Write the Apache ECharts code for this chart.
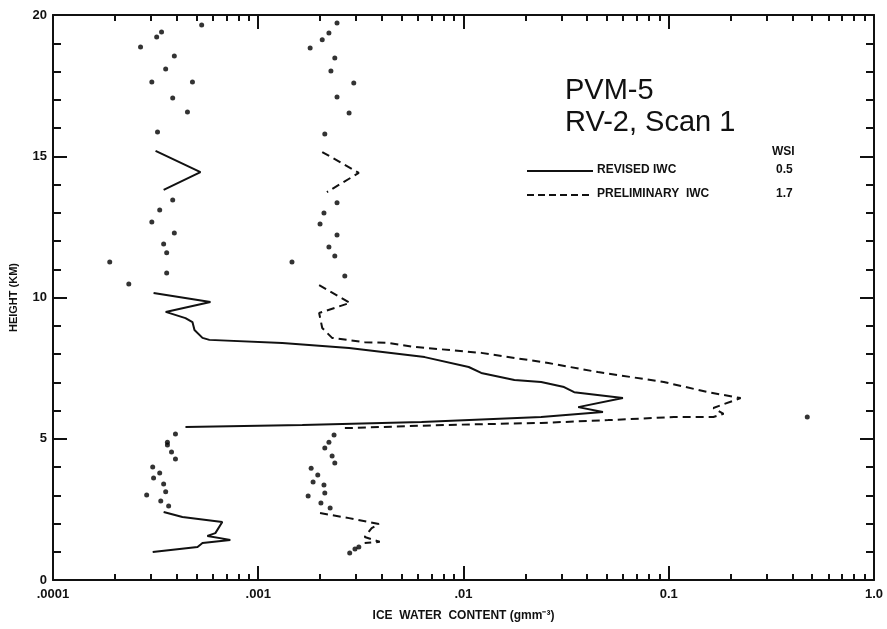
<!DOCTYPE html>
<html>
<head>
<meta charset="utf-8">
<title>PVM-5 RV-2 Scan 1</title>
<script src="https://cdn.jsdelivr.net/npm/echarts@6/dist/echarts.min.js"></script>
<style>
  html, body { margin: 0; padding: 0; background: #fff; }
  #main { width: 887px; height: 629px; }
</style>
</head>
<body>
<div id="main"></div>
<script>
// ice water content (g m^-3) vs height (km)
var revisedTopDots = [[0.00053,19.65],[0.000338,19.40],[0.00032,19.22],[0.000267,18.87],[0.00039,18.55],[0.000354,18.09],[0.000303,17.63],[0.000478,17.63],[0.000383,17.06],[0.000452,16.57],[0.000323,15.86]];
var revisedUpperV = [[0.000316,15.19],[0.000523,14.44],[0.000346,13.81]];
var revisedMidDots = [[0.000383,13.45],[0.000331,13.10],[0.000303,12.67],[0.00039,12.28],[0.000346,11.89],[0.000358,11.58],[0.000189,11.26],[0.000358,10.87],[0.000234,10.48]];
var revisedMain = [[0.000309,10.16],[0.000585,9.84],[0.000354,9.49],[0.000442,9.27],[0.000478,9.13],[0.000489,8.85],[0.000535,8.57],[0.000578,8.50],[0.00131,8.39],[0.00277,8.21],[0.00647,7.89],[0.0106,7.54],[0.0122,7.33],[0.0177,7.08],[0.0239,7.01],[0.0309,6.83],[0.0346,6.65],[0.0598,6.44],[0.0362,6.12],[0.0478,5.95],[0.0239,5.77],[0.00625,5.59],[0.00164,5.49],[0.000442,5.42]];
var revisedLowDots = [[0.000395,5.17],[0.000361,4.88],[0.000361,4.78],[0.000378,4.53],[0.000395,4.28],[0.000306,4.0],[0.000331,3.79],[0.000309,3.61],[0.000346,3.40],[0.000354,3.12],[0.000286,3.01],[0.000335,2.80],[0.000366,2.62]];
var revisedBottom = [[0.000346,2.41],[0.000427,2.23],[0.000668,2.05],[0.000618,1.66],[0.000565,1.56],[0.000731,1.42],[0.000535,1.31],[0.000506,1.17],[0.000306,0.99]];

var prelimTopDots = [[0.00242,19.72],[0.00221,19.36],[0.00205,19.12],[0.00179,18.83],[0.00236,18.48],[0.00226,18.02],[0.00292,17.59],[0.00242,17.10],[0.00277,16.53],[0.00211,15.79]];
var prelimUpperV = [[0.00205,15.15],[0.00309,14.41],[0.00216,13.73]];
var prelimMidDots = [[0.00242,13.35],[0.00209,12.99],[0.0020,12.60],[0.00242,12.21],[0.00221,11.79],[0.00236,11.47],[0.00146,11.26],[0.00264,10.76]];
var prelimMain = [[0.00198,10.44],[0.0028,9.81],[0.00198,9.45],[0.00205,8.92],[0.00229,8.57],[0.0033,8.42],[0.00433,8.39],[0.00578,8.25],[0.0122,8.04],[0.0259,7.68],[0.0452,7.36],[0.0946,7.01],[0.155,6.65],[0.224,6.44],[0.165,6.09],[0.185,5.88],[0.165,5.77],[0.106,5.77],[0.0506,5.66],[0.0239,5.56],[0.00846,5.49],[0.00277,5.38],[0.00256,5.38]];
var prelimLowDots = [[0.00234,5.13],[0.00221,4.88],[0.00211,4.67],[0.00229,4.39],[0.00236,4.14],[0.00181,3.96],[0.00195,3.72],[0.00185,3.47],[0.00209,3.36],[0.00211,3.08],[0.00175,2.97],[0.00202,2.73],[0.00224,2.55]];
var prelimBottom = [[0.0020,2.37],[0.00277,2.19],[0.00387,1.98],[0.00357,1.84],[0.0033,1.52],[0.00391,1.35],[0.0033,1.31]];
var prelimBottomDots = [[0.00309,1.17],[0.00296,1.10],[0.00279,0.96],[0.473,5.77]];

// axis ticks
var xTickValues = [0.0001, 0.001, 0.01, 0.1, 1];
var xTickLabels = ['.0001', '.001', '.01', '0.1', '1.0'];
var xMinorValues = [];
[0.0001, 0.001, 0.01, 0.1].forEach(function (d) {
  for (var k = 2; k <= 9; k++) xMinorValues.push(+(d * k).toPrecision(3));
});

var legendRows = [
  { name: 'REVISED IWC', wsi: '0.5', dash: null },
  { name: 'PRELIMINARY  IWC', wsi: '1.7', dash: [7, 4] }
];

var myChart = echarts.init(document.getElementById('main'));

var black = '#111';
var tickFont = { color: black, fontFamily: 'Liberation Sans', fontWeight: 'bold', fontSize: 13 };

function xLabel(v) {
  for (var i = 0; i < xTickValues.length; i++) {
    if (Math.abs(Math.log10(v) - Math.log10(xTickValues[i])) < 1e-6) return xTickLabels[i];
  }
  return '';
}

function xAxisDef(pos, minor) {
  return {
    type: 'log', logBase: 10, min: 0.0001, max: 1, position: pos, gridIndex: 0,
    name: (pos === 'bottom' && !minor) ? 'ICE  WATER  CONTENT (gmm\u207B\u00B3)' : '',
    nameLocation: 'middle', nameGap: 30,
    nameTextStyle: { color: black, fontFamily: 'Liberation Sans', fontWeight: 'bold', fontSize: 12 },
    axisLine: { show: !minor, lineStyle: { color: black, width: 2 } },
    axisTick: { show: true, inside: true, length: minor ? 6 : 14, customValues: minor ? xMinorValues : xTickValues,
                lineStyle: { color: black, width: 2 } },
    axisLabel: (pos === 'bottom' && !minor)
      ? Object.assign({ show: true, margin: 8, customValues: xTickValues, formatter: xLabel }, tickFont)
      : { show: false },
    splitLine: { show: false }
  };
}

function yAxisDef(pos) {
  return {
    type: 'value', min: 0, max: 20, interval: 5, position: pos, gridIndex: 0,
    name: pos === 'left' ? 'HEIGHT (KM)' : '',
    nameLocation: 'middle', nameGap: 34, nameRotate: 90,
    nameTextStyle: { color: black, fontFamily: 'Liberation Sans', fontWeight: 'bold', fontSize: 11 },
    axisLine: { show: true, lineStyle: { color: black, width: 2 } },
    axisTick: { show: true, inside: true, length: 14, lineStyle: { color: black, width: 2 } },
    minorTick: { show: true, splitNumber: 5, length: 8, lineStyle: { color: black, width: 2 } },
    axisLabel: pos === 'left' ? Object.assign({ show: true, margin: 6 }, tickFont) : { show: false },
    splitLine: { show: false }
  };
}

function lineSeries(data, dashed) {
  return {
    type: 'line', data: data, xAxisIndex: 0, yAxisIndex: 0,
    symbol: 'none', smooth: false, animation: false, silent: true,
    lineStyle: { color: black, width: 2, type: dashed ? [8, 5] : 'solid' }
  };
}

function dotSeries(data) {
  return {
    type: 'scatter', data: data, xAxisIndex: 0, yAxisIndex: 0,
    symbol: 'circle', symbolSize: 5, animation: false, silent: true,
    itemStyle: { color: '#000' }
  };
}

var titleFont = '29px "Liberation Sans"';
var smallFont = 'bold 12px "Liberation Sans"';
var graphics = [
  { type: 'text', left: 565, top: 76, style: { text: 'PVM-5', fill: black, font: titleFont } },
  { type: 'text', left: 565, top: 108, style: { text: 'RV-2, Scan 1', fill: black, font: titleFont } },
  { type: 'text', left: 772, top: 146, style: { text: 'WSI', fill: black, font: smallFont } }
];
legendRows.forEach(function (r, i) {
  var y = 171 + i * 24;
  graphics.push({ type: 'line', shape: { x1: 527, y1: y, x2: 593, y2: y },
    style: { stroke: black, lineWidth: 2, lineDash: r.dash } });
  graphics.push({ type: 'text', left: 597, top: y - 7, style: { text: r.name, fill: black, font: smallFont } });
  graphics.push({ type: 'text', left: 776, top: y - 7, style: { text: r.wsi, fill: black, font: smallFont } });
});

var option = {
  backgroundColor: '#fff',
  animation: false,
  grid: { left: 50, right: 13, top: 15, bottom: 49 },
  xAxis: [xAxisDef('bottom', false), xAxisDef('bottom', true), xAxisDef('top', false), xAxisDef('top', true)],
  yAxis: [yAxisDef('left'), yAxisDef('right')],
  graphic: graphics,
  series: [
    dotSeries(revisedTopDots), lineSeries(revisedUpperV, false), dotSeries(revisedMidDots),
    lineSeries(revisedMain, false), dotSeries(revisedLowDots), lineSeries(revisedBottom, false),
    dotSeries(prelimTopDots), lineSeries(prelimUpperV, true), dotSeries(prelimMidDots),
    lineSeries(prelimMain, true), dotSeries(prelimLowDots), lineSeries(prelimBottom, true),
    dotSeries(prelimBottomDots)
  ]
};
myChart.setOption(option);
</script>
</body>
</html>
